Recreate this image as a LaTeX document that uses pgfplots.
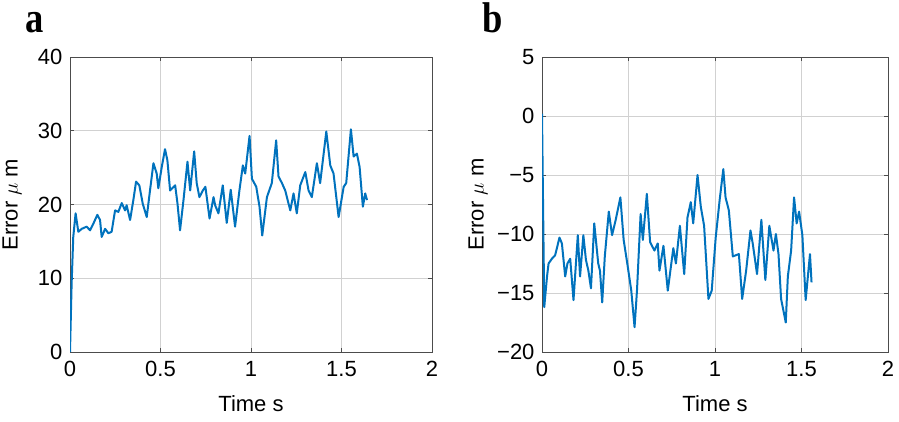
\documentclass[border=0pt]{standalone}
\usepackage{fontspec}
\setmainfont{Liberation Sans}
\newfontfamily\serifbf{Liberation Serif}
\usepackage{pgfplots}
\pgfplotsset{compat=1.18}
\definecolor{mblue}{rgb}{0,0.447,0.741}
\pgfplotsset{
  mat/.style={
    scale only axis, anchor=south west,
    width=#1, height=295pt,
    xmin=0, xmax=2, xtick={0,0.5,1,1.5,2},
    grid=major, grid style={black!18, line width=0.7pt},
    axis line style={black!70, line width=0.9pt},
    tick style={black!70, line width=0.7pt},
    tick align=inside, major tick length=4pt,
    /pgf/number format/assume math mode=true,
    tick label style={font=\fontsize{22}{26}\selectfont},
    label style={font=\fontsize{22}{26}\selectfont},
    xticklabel style={yshift=-6pt},
    yticklabel style={xshift=-4pt},
    xlabel={Time s},
    ylabel={Error $\mu$ m},
    xlabel style={at={(axis description cs:0.5,-0.175)}, anchor=center},
  },
}
\begin{document}
\begin{tikzpicture}
\useasboundingbox (0,0) rectangle (899pt,-422pt);
\node[anchor=base west, inner sep=0] at (25pt,-33pt)
  {\serifbf\bfseries\fontsize{43}{45}\selectfont\scalebox{0.85}[1]{a}};
\node[anchor=base west, inner sep=0] at (482pt,-33pt)
  {\serifbf\bfseries\fontsize{43}{45}\selectfont\scalebox{0.85}[1]{b}};

\begin{axis}[mat=362pt, at={(70pt,-352pt)},
  ymin=0, ymax=40, ytick={0,10,20,30,40},
  ylabel style={at={(axis description cs:-0.16,0.5)}, anchor=center}]
\addplot[mblue, line width=2pt, line join=round] coordinates {
(0,0) (0.009,9.3) (0.018,15.6) (0.031,18.8) (0.046,16.3) (0.065,16.7)
(0.092,17.0) (0.111,16.5) (0.129,17.4) (0.151,18.6) (0.166,17.9) (0.175,15.6)
(0.194,16.7) (0.212,16.1) (0.230,16.3) (0.249,19.2) (0.267,19.0) (0.286,20.2)
(0.304,19.2) (0.313,19.9) (0.332,17.9) (0.350,20.6) (0.365,23.1) (0.383,22.6)
(0.402,20.1) (0.424,18.3) (0.442,21.9) (0.461,25.6) (0.479,24.2) (0.488,22.2)
(0.507,25.1) (0.525,27.5) (0.538,26.0) (0.553,21.9) (0.581,22.6) (0.594,20.1)
(0.608,16.5) (0.627,20.6) (0.649,25.8) (0.664,21.9) (0.686,27.2) (0.700,22.9)
(0.715,21.0) (0.734,21.9) (0.748,22.4) (0.771,18.1) (0.793,21.0) (0.802,19.9)
(0.820,18.8) (0.844,22.6) (0.866,17.5) (0.888,22.0) (0.912,17.0) (0.936,21.9)
(0.955,25.3) (0.968,24.2) (0.992,29.3) (1.005,23.5) (1.029,22.4) (1.047,19.7)
(1.062,15.8) (1.088,21.0) (1.115,22.9) (1.139,28.7) (1.152,23.8) (1.171,22.9)
(1.189,21.9) (1.217,19.2) (1.235,21.5) (1.253,18.8) (1.272,22.6) (1.300,24.4)
(1.318,21.9) (1.336,21.0) (1.364,25.6) (1.382,22.9) (1.416,29.9) (1.438,25.3)
(1.456,24.2) (1.484,18.3) (1.512,22.4) (1.526,22.9) (1.552,30.2) (1.567,26.5)
(1.585,26.9) (1.600,25.1) (1.618,19.7) (1.631,21.5) (1.641,20.6)
};
\end{axis}

\begin{axis}[mat=346pt, at={(542pt,-352pt)},
  ymin=-20, ymax=5, ytick={-20,-15,-10,-5,0,5},
  yticklabels={−20,−15,−10,−5,0,5},
  ylabel style={at={(axis description cs:-0.185,0.5)}, anchor=center}]
\addplot[mblue, line width=2pt, line join=round] coordinates {
(0,0.2) (0.013,-16.2) (0.029,-13.6) (0.038,-12.5) (0.057,-12.1) (0.076,-11.8)
(0.101,-10.3) (0.115,-10.8) (0.134,-13.6) (0.147,-12.5) (0.163,-12.1) (0.182,-15.6)
(0.207,-10.1) (0.220,-13.6) (0.239,-10.1) (0.254,-12.2) (0.268,-13.1) (0.283,-14.6)
(0.302,-9.1) (0.325,-12.5) (0.335,-13.1) (0.348,-15.8) (0.363,-11.9) (0.386,-8.1)
(0.405,-10.1) (0.426,-8.8) (0.453,-6.9) (0.472,-10.5) (0.493,-12.5) (0.516,-14.8)
(0.535,-17.9) (0.549,-14.8) (0.570,-8.3) (0.583,-10.5) (0.606,-6.6) (0.625,-10.7)
(0.650,-11.4) (0.669,-10.8) (0.679,-13.1) (0.702,-11.0) (0.727,-14.8) (0.759,-11.2)
(0.774,-12.5) (0.797,-9.3) (0.822,-13.4) (0.841,-8.6) (0.860,-7.3) (0.874,-9.1)
(0.899,-5.0) (0.918,-7.7) (0.937,-9.3) (0.962,-15.5) (0.981,-14.8) (1.004,-10.3)
(1.027,-7.1) (1.048,-4.5) (1.061,-6.9) (1.080,-8.0) (1.103,-11.9) (1.138,-11.7)
(1.157,-15.5) (1.180,-13.1) (1.205,-9.7) (1.218,-10.8) (1.243,-13.4) (1.268,-8.8)
(1.291,-13.9) (1.314,-9.3) (1.338,-11.4) (1.352,-10.0) (1.367,-11.7) (1.382,-15.5)
(1.409,-17.5) (1.421,-13.6) (1.440,-11.4) (1.457,-6.9) (1.472,-9.1) (1.486,-8.1)
(1.505,-10.1) (1.524,-15.6) (1.549,-11.7) (1.558,-14.1)
};
\end{axis}
\end{tikzpicture}
\end{document}
